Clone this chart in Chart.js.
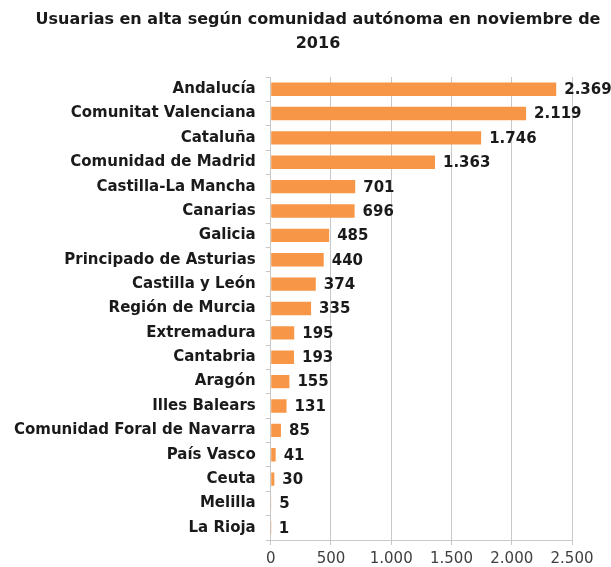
<!DOCTYPE html>
<html><head><meta charset="utf-8">
<script src="https://cdn.jsdelivr.net/npm/chart.js@4"></script>
<style>html,body{margin:0;padding:0;background:#fff;overflow:hidden;}#wrap{width:611px;height:567px;overflow:hidden;}</style>
</head><body><div id="wrap"><canvas id="c" width="611" height="567"></canvas></div>
<script>
const categories = ["Andalucía","Comunitat Valenciana","Cataluña","Comunidad de Madrid","Castilla-La Mancha","Canarias","Galicia","Principado de Asturias","Castilla y León","Región de Murcia","Extremadura","Cantabria","Aragón","Illes Balears","Comunidad Foral de Navarra","País Vasco","Ceuta","Melilla","La Rioja"];
const usuarias = [2369,2119,1746,1363,701,696,485,440,374,335,195,193,155,131,85,41,30,5,1];
const xTicks = [0,500,1000,1500,2000,2500];
const titleLines = ["Usuarias en alta según comunidad autónoma en noviembre de","2016"];

const FONT = "'DejaVu Sans', sans-serif";
function fmt(v){ return String(v).replace(/\B(?=(\d{3})+(?!\d))/g, "."); }

const titlePlugin = {
  id: 'twoLineTitle',
  afterDraw(chart){
    const ctx = chart.ctx;
    ctx.save();
    ctx.font = "bold 16px " + FONT;
    ctx.fillStyle = "#1a1a1a";
    ctx.textAlign = "center";
    ctx.textBaseline = "middle";
    ctx.fillText(titleLines[0], 318, 20);
    ctx.fillText(titleLines[1], 318, 44);
    ctx.restore();
  }
};

const labelPlugin = {
  id: 'valLabels',
  afterDatasetsDraw(chart){
    const ctx = chart.ctx;
    const meta = chart.getDatasetMeta(0);
    ctx.save();
    ctx.font = "bold 15px " + FONT;
    ctx.fillStyle = "#1a1a1a";
    ctx.textBaseline = "middle";
    ctx.textAlign = "left";
    meta.data.forEach((el,i)=>{
      ctx.fillText(fmt(usuarias[i]), el.x + 8, el.y + 1);
    });
    ctx.restore();
  }
};

new Chart(document.getElementById('c'), {
  type: 'bar',
  data: { labels: categories, datasets: [{ data: usuarias, backgroundColor: '#F79646', barPercentage: 0.55, categoryPercentage: 1.0 }] },
  options: {
    indexAxis: 'y',
    responsive: false,
    animation: false,
    layout: { padding: { left: 4, right: 39, top: 77, bottom: -6 } },
    plugins: {
      legend: { display: false },
      tooltip: { enabled: false },
      title: { display: false }
    },
    scales: {
      x: {
        min: 0, max: 2500,
        afterBuildTicks(axis){ axis.ticks = xTicks.map(v=>({value:v})); },
        grid: { color: '#c8c8c8', lineWidth: 1, tickLength: 5, drawTicks: true },
        border: { color: '#c8c8c8' },
        ticks: { color: '#404040', font: { family: FONT, size: 15 }, padding: 5, callback: (v)=>fmt(v) }
      },
      y: {
        grid: { drawOnChartArea: false, color: '#c8c8c8', tickLength: 5, offset: true },
        border: { color: '#c8c8c8' },
        ticks: { color: '#1a1a1a', font: { family: FONT, size: 15, weight: 'bold' }, padding: 10, autoSkip: false }
      }
    }
  },
  plugins: [labelPlugin, titlePlugin]
});
</script></body></html>
